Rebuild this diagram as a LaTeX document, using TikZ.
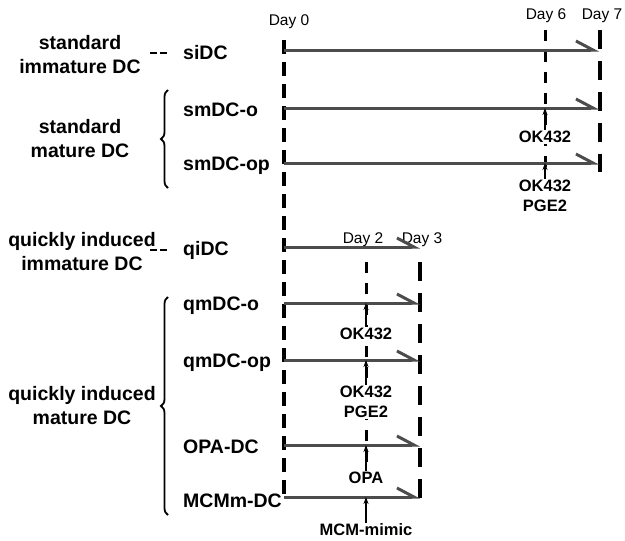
\documentclass[tikz,border=0pt]{standalone}
\usepackage{fontspec}
\setmainfont{Liberation Sans}
\usetikzlibrary{arrows.meta,decorations.pathreplacing}
\begin{document}
\begin{tikzpicture}[
    x=1pt, y=-1pt,
    >=stealth,
    every node/.style={font=\bfseries\fontsize{19.5}{24}\selectfont, inner sep=2pt},
    daylbl/.style={font=\fontsize{15.5}{18}\selectfont},
    agent/.style={font=\bfseries\fontsize{16.5}{20}\selectfont, align=center, fill=white, inner sep=1pt},
    tline/.style={line width=3pt, black!70,
        -{Straight Barb[left,length=17pt,width=18pt,line width=3pt]}},
    startdash/.style={line width=3.2pt, dash pattern=on 14pt off 8pt},
    middash/.style={line width=3pt, dash pattern=on 11pt off 10pt},
    enddash/.style={line width=4pt, dash pattern=on 19pt off 12pt},
    grpdash/.style={line width=1.8pt, dash pattern=on 7pt off 3pt},
    push/.style={line width=1.6pt, -{Stealth[length=7pt,width=5pt]}},
    grpbrace/.style={line width=1.8pt, decorate, decoration={brace,amplitude=7pt}}
]
\useasboundingbox (0,0) rectangle (625,541);

% day marks
\node[daylbl] (d0) at (289,22) {Day 0};
\node[daylbl] (d6) at (546,16) {Day 6};
\node[daylbl] (d7) at (602,16) {Day 7};
\node[daylbl] (d2) at (363,240) {Day 2};
\node[daylbl] (d3) at (422,240) {Day 3};

\coordinate (t0) at (284,40);  \coordinate (b0) at (284,500);
\coordinate (t6) at (545,30);  \coordinate (b6) at (545,170);
\coordinate (t7) at (600,30);  \coordinate (b7) at (600,172);
\coordinate (t2) at (366,262); \coordinate (b2) at (366,492);
\coordinate (t3) at (420,262); \coordinate (b3) at (420,505);

\draw[startdash] (t0) -- (b0);
\draw[middash] (t6) -- (b6);
\draw[enddash] (t7) -- (b7);
\draw[middash] (t2) -- (b2);
\draw[enddash] (t3) -- (b3);

% groups
\node[align=center] (g1) at (80,55) {standard\\immature DC};
\node[align=center] (g2) at (80,139) {standard\\mature DC};
\node[align=center] (g3) at (82,252) {quickly induced\\immature DC};
\node[align=center] (g4) at (82,406) {quickly induced\\mature DC};

% cultures
\node[anchor=west] (siDC) at (181,53) {siDC};
\node[anchor=west] (smDCo) at (181,110) {smDC-o};
\node[anchor=west] (smDCop) at (181,166) {smDC-op};
\node[anchor=west] (qiDC) at (181,250) {qiDC};
\node[anchor=west] (qmDCo) at (181,306) {qmDC-o};
\node[anchor=west] (qmDCop) at (181,363) {qmDC-op};
\node[anchor=west] (OPADC) at (181,447) {OPA-DC};
\node[anchor=west] (MCMmDC) at (181,501) {MCMm-DC};

\draw[grpdash] ([xshift=-31pt]siDC.west) -- ([xshift=-14pt]siDC.west);
\draw[grpdash] ([xshift=-31pt]qiDC.west) -- ([xshift=-14pt]qiDC.west);

\draw[grpbrace] (168,188) -- (168,90);
\draw[grpbrace] (168,515) -- (168,297);

% time lines
\coordinate (s1) at (284,50);  \coordinate (e1) at (599,50);
\coordinate (s2) at (284,108); \coordinate (e2) at (599,108);
\coordinate (s3) at (284,163); \coordinate (e3) at (599,163);
\coordinate (s4) at (284,247); \coordinate (e4) at (420,247);
\coordinate (s5) at (284,303); \coordinate (e5) at (420,303);
\coordinate (s6) at (284,360); \coordinate (e6) at (420,360);
\coordinate (s7) at (284,445); \coordinate (e7) at (420,445);
\coordinate (s8) at (284,497); \coordinate (e8) at (420,497);

\draw[tline] (s1) -- (e1);
\draw[tline] (s2) -- (e2);
\draw[tline] (s3) -- (e3);
\draw[tline] (s4) -- (e4);
\draw[tline] (s5) -- (e5);
\draw[tline] (s6) -- (e6);
\draw[tline] (s7) -- (e7);
\draw[tline] (s8) -- (e8);

% stimuli
\node[agent] (ok1) at (545,137) {OK432};
\node[agent] (ok2) at (545,196) {OK432\\PGE2};
\node[agent] (ok3) at (366,334) {OK432};
\node[agent] (ok4) at (366,402) {OK432\\PGE2};
\node[agent] (opa) at (366,478) {OPA};
\node[agent] (mcm) at (366,530) {MCM-mimic};

\draw[push] (ok1.north) -- (ok1.north |- s2);
\draw[push] (ok2.north) -- (ok2.north |- s3);
\draw[push] (ok3.north) -- (ok3.north |- s5);
\draw[push] (ok4.north) -- (ok4.north |- s6);
\draw[push] (opa.north) -- (opa.north |- s7);
\draw[push] (mcm.north) -- (mcm.north |- s8);
\end{tikzpicture}
\end{document}
